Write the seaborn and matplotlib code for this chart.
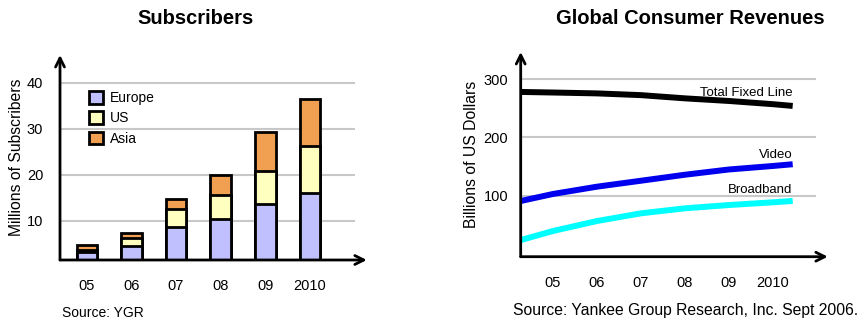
import matplotlib
matplotlib.use("Agg")
import matplotlib.pyplot as plt
import seaborn as sns
import pandas as pd
from matplotlib.patches import Patch

# ---- data: Subscribers (millions) ----
years_left = ["05", "06", "07", "08", "09", "2010"]
europe = [3.3, 4.6, 8.8, 10.4, 13.7, 16.1]
us = [0.5, 1.7, 3.9, 5.3, 7.1, 10.2]
asia = [0.9, 1.0, 2.1, 4.3, 8.4, 10.2]

# ---- data: Global Consumer Revenues (billions USD) ----
years_right = [2004.27, 2005, 2006, 2007, 2008, 2009, 2010, 2010.45]
total_fixed = [278, 277, 275.5, 272.5, 267, 262.5, 257, 254]
video = [91, 103, 115.5, 125.7, 136, 145, 151, 154]
broadband = [24, 39.5, 56.6, 69.8, 78.4, 84, 88.7, 91]
tick_labels_right = ["05", "06", "07", "08", "09", "2010"]

sns.set_theme(style="white")
plt.rcParams["font.family"] = ["Liberation Sans", "DejaVu Sans"]
plt.rcParams["text.color"] = "black"
plt.rcParams["axes.labelcolor"] = "black"
plt.rcParams["xtick.color"] = "black"
plt.rcParams["ytick.color"] = "black"

W, H = 865, 322
fig = plt.figure(figsize=(W / 100, H / 100), dpi=100)

def rect(x0, y0, x1, y1):
    return [x0 / W, 1 - y1 / H, (x1 - x0) / W, (y1 - y0) / H]

arrow = dict(arrowstyle="->", lw=2, color="black", mutation_scale=16, shrinkA=0, shrinkB=0)

# ---------- left chart ----------
axL = fig.add_axes(rect(60, 55, 355, 260))
df = pd.DataFrame({"year": years_left, "Europe": europe, "US": us, "Asia": asia})
df["eu_us"] = df["Europe"] + df["US"]
df["total"] = df["eu_us"] + df["Asia"]
c_eu, c_us, c_as = "#c0c0ff", "#ffffc0", "#f0a050"
for col, c in [("total", c_as), ("eu_us", c_us), ("Europe", c_eu)]:
    sns.barplot(data=df, x="year", y=col, color=c, width=0.46, edgecolor="black",
                linewidth=2.0, saturation=1, ax=axL)
axL.set_xlim(-0.6, 6.01)
axL.set_ylim(1.54, 46.0)
axL.set_yticks([10, 20, 30, 40])
axL.yaxis.grid(True, color="#c8c8c8", linewidth=1.5)
axL.set_axisbelow(True)
for s in axL.spines.values():
    s.set_visible(False)
axL.tick_params(axis="both", length=0, labelsize=10.5, colors="black")
axL.tick_params(axis="y", pad=12)
axL.tick_params(axis="x", pad=14)
axL.set_xlabel("")
axL.set_ylabel("Millions of Subscribers", fontsize=11.3, labelpad=2, color="black")
axL.annotate("", xy=(1.04, 0), xytext=(0, 0), xycoords="axes fraction", arrowprops=arrow)
axL.annotate("", xy=(0, 1.0), xytext=(0, 0), xycoords="axes fraction", arrowprops=arrow)
handles = [Patch(facecolor=c_eu, edgecolor="black", linewidth=2.0, label="Europe"),
           Patch(facecolor=c_us, edgecolor="black", linewidth=2.0, label="US"),
           Patch(facecolor=c_as, edgecolor="black", linewidth=2.0, label="Asia")]
leg = axL.legend(handles=handles, loc="upper left", bbox_to_anchor=(0.055, 0.885), frameon=False,
                 fontsize=10, handlelength=1.0, handleheight=1.0, labelspacing=0.45, handletextpad=0.5)
for t in leg.get_texts():
    t.set_color("black")
fig.text(196 / W, 1 - 18 / H, "Subscribers", ha="center", va="center", fontsize=14.5,
         fontweight="bold", color="black")
fig.text(62 / W, 1 - 313 / H, "Source: YGR", ha="left", va="center", fontsize=10, color="black")

# ---------- right chart ----------
axR = fig.add_axes(rect(520.7, 52, 816, 256.7))
dfr = pd.DataFrame({"year": years_right, "Total Fixed Line": total_fixed,
                    "Video": video, "Broadband": broadband})
for col, c in [("Total Fixed Line", "black"), ("Video", "#0000ee"), ("Broadband", "#00ffff")]:
    sns.lineplot(data=dfr, x="year", y=col, color=c, linewidth=4.3, ax=axR,
                 solid_capstyle="butt")
axR.set_xlim(2004.265, 2010.98)
axR.set_ylim(-4.6, 346.5)
axR.set_xticks([2005, 2006, 2007, 2008, 2009, 2010])
axR.set_xticklabels(tick_labels_right)
axR.set_yticks([100, 200, 300])
axR.yaxis.grid(True, color="#c8c8c8", linewidth=1.5)
axR.set_axisbelow(True)
for s in axR.spines.values():
    s.set_visible(False)
axR.tick_params(axis="both", length=0, labelsize=10.5, colors="black")
axR.tick_params(axis="y", pad=9)
axR.tick_params(axis="x", pad=14)
axR.set_xlabel("")
axR.set_ylabel("Billions of US Dollars", fontsize=11.3, labelpad=3, color="black")
axR.annotate("", xy=(1.04, 0), xytext=(0, 0), xycoords="axes fraction", arrowprops=arrow)
axR.annotate("", xy=(0, 1.0), xytext=(0, 0), xycoords="axes fraction", arrowprops=arrow)
axR.text(years_right[-1], total_fixed[-1] + 12, "Total Fixed Line", ha="right", va="bottom",
         fontsize=9.5, color="black")
axR.text(years_right[-1], video[-1] + 6, "Video", ha="right", va="bottom", fontsize=9.5, color="black")
axR.text(years_right[-1], broadband[-1] + 9, "Broadband", ha="right", va="bottom", fontsize=9.5,
         color="black")
fig.text(690 / W, 1 - 18 / H, "Global Consumer Revenues", ha="center", va="center", fontsize=14.5,
         fontweight="bold", color="black")
fig.text(858 / W, 1 - 310 / H, "Source: Yankee Group Research, Inc. Sept 2006.", ha="right",
         va="center", fontsize=11.3, color="black")

fig.savefig("out.png", dpi=100)
